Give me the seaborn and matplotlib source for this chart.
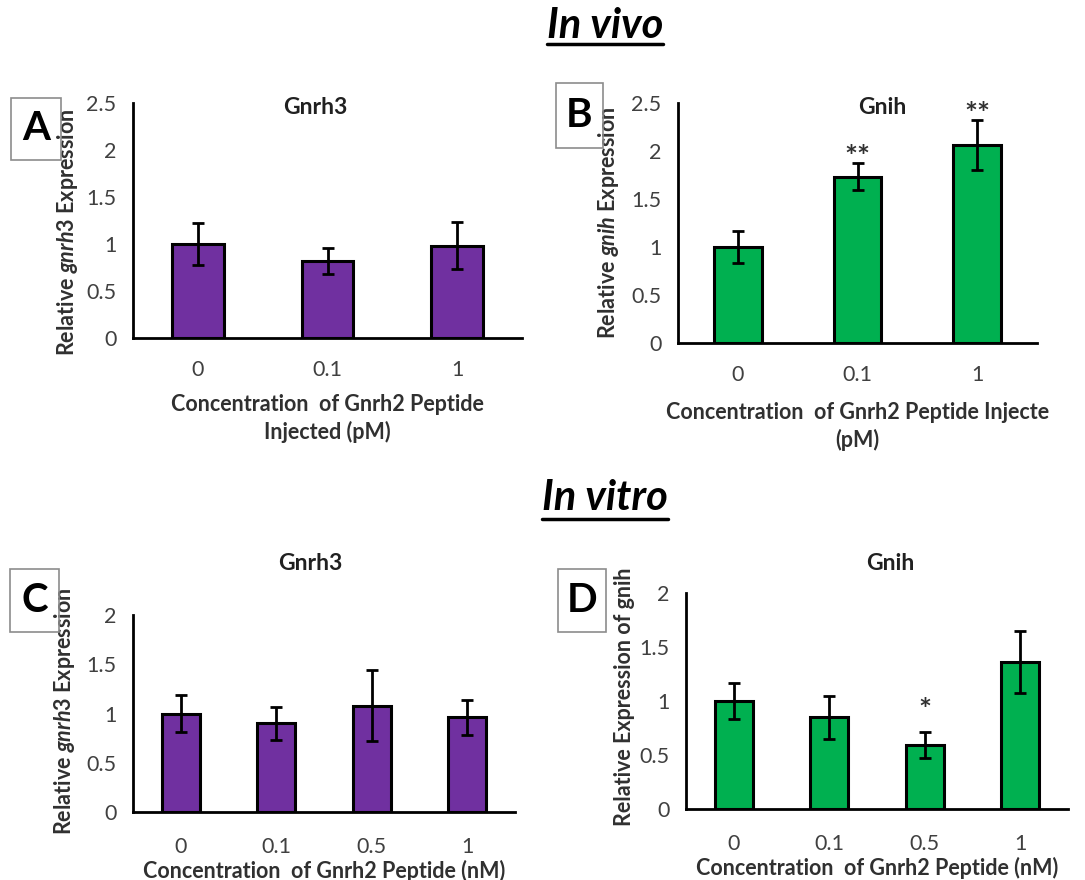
import numpy as np
import pandas as pd
import matplotlib
matplotlib.use("Agg")
import matplotlib.pyplot as plt
import seaborn as sns
from matplotlib.patches import Rectangle
from matplotlib.lines import Line2D

# ---------------- data ----------------
vivo_doses = ["0", "0.1", "1"]
vitro_doses = ["0", "0.1", "0.5", "1"]

a_mean = [1.00, 0.82, 0.98]
a_err = [0.22, 0.14, 0.25]

b_mean = [1.00, 1.73, 2.06]
b_err = [0.17, 0.14, 0.26]
b_sig = ["", "**", "**"]

c_mean = [1.00, 0.90, 1.08, 0.96]
c_err = [0.19, 0.17, 0.36, 0.18]

d_mean = [1.00, 0.85, 0.59, 1.36]
d_err = [0.17, 0.20, 0.12, 0.29]
d_sig = ["", "", "*", ""]

PURPLE = "#7030A0"
GREEN = "#00B050"

# ---------------- style ----------------
sns.set_style("white")
plt.rcParams["font.family"] = ["Lato", "DejaVu Sans"]
plt.rcParams["mathtext.fontset"] = "custom"
plt.rcParams["mathtext.rm"] = "Lato:bold"
plt.rcParams["mathtext.it"] = "Lato:italic:bold"
plt.rcParams["mathtext.bf"] = "Lato:bold"

W, H = 1085, 880
fig = plt.figure(figsize=(W / 100, H / 100), dpi=100)

TICK_FS = 15.5
LAB_FS = 15.5


def px_rect(l, r, t, b):
    return [l / W, 1 - b / H, (r - l) / W, (b - t) / H]


def panel(rect, cats, means, errs, color, ymax, ylabel, xlabel, ylab_xy,
          title, title_xy, sig=None, sig_off=0.15, xlab_pad=6, xtick_pad=16):
    ax = fig.add_axes(px_rect(*rect))
    df = pd.DataFrame({"dose": cats, "value": means})
    sns.barplot(data=df, x="dose", y="value", order=cats, color=color,
                saturation=1, width=0.4, edgecolor="black", linewidth=2.2,
                errorbar=None, ax=ax)
    xs = np.arange(len(cats))
    ax.errorbar(xs, means, yerr=errs, fmt="none", ecolor="black",
                elinewidth=2, capsize=4, capthick=2, zorder=5)
    n = len(cats)
    ax.set_xlim(-0.5, n - 0.5)
    ax.set_ylim(0, ymax)
    ticks = np.arange(0, ymax + 0.01, 0.5)
    ax.set_yticks(ticks)
    ax.set_yticklabels([f"{v:g}" for v in ticks])
    ax.set_xticks(np.arange(-0.5, n, 1), minor=True)
    ax.tick_params(axis="x", which="major", length=0, pad=xtick_pad,
                   labelsize=TICK_FS, labelcolor="#404040")
    ax.tick_params(axis="x", which="minor", length=7, width=2,
                   direction="out", color="black")
    ax.tick_params(axis="y", which="major", length=7, width=2,
                   direction="out", color="black", pad=5,
                   labelsize=TICK_FS, labelcolor="#404040")
    for s in ["top", "right"]:
        ax.spines[s].set_visible(False)
    for s in ["left", "bottom"]:
        ax.spines[s].set_linewidth(2)
        ax.spines[s].set_color("black")
    ax.set_ylabel(ylabel, fontsize=LAB_FS, fontweight="bold", color="#303030")
    ax.yaxis.set_label_coords(*ylab_xy)
    ax.set_xlabel(xlabel, fontsize=LAB_FS, fontweight="bold", color="#303030",
                  labelpad=xlab_pad, linespacing=1.35)
    fig.text(title_xy[0] / W, 1 - title_xy[1] / H, title, ha="center",
             va="center", fontsize=16.5, fontweight="bold", color="#202020")
    if sig is not None:
        for x, m, e, s in zip(xs, means, errs, sig):
            if s:
                ax.text(x, m + e + sig_off, s, ha="center", va="center",
                        fontsize=22, color="#303030", fontweight="bold")
    return ax


def letter_box(l, r, t, b, letter):
    fig.add_artist(Rectangle((l / W, 1 - b / H), (r - l) / W, (b - t) / H,
                             transform=fig.transFigure, fill=False,
                             edgecolor="#8c8c8c", linewidth=1.2))
    fig.text((l + r) / 2 / W, 1 - (t + b) / 2 / H, letter, ha="center",
             va="center", fontsize=29, fontweight="bold", color="black")


def header(cx, cy, text, uline_y):
    t = fig.text(cx / W, 1 - cy / H, text, ha="center", va="center",
                 fontsize=30, fontweight="bold", style="italic", color="black")
    fig.canvas.draw()
    bb = t.get_window_extent(renderer=fig.canvas.get_renderer())
    fig.add_artist(Line2D([bb.x0 / W, bb.x1 / W], [1 - uline_y / H] * 2,
                          transform=fig.transFigure, color="black",
                          linewidth=2.5))


# ---------------- panels ----------------
panel((133, 522, 103, 338), vivo_doses, a_mean, a_err, PURPLE, 2.5,
      r"Relative $\mathit{gnrh3}$ Expression",
      "Concentration  of Gnrh2 Peptide\nInjected (pM)", (-0.137, 0.45),
      "Gnrh3", (315, 107), xlab_pad=10)

panel((678, 1037, 103, 343), vivo_doses, b_mean, b_err, GREEN, 2.5,
      r"Relative $\mathit{gnih}$ Expression",
      "Concentration  of Gnrh2 Peptide Injecte\n(pM)", (-0.159, 0.5),
      "Gnih", (882, 107), sig=b_sig, sig_off=0.06, xlab_pad=12)

panel((133, 515, 615, 812), vitro_doses, c_mean, c_err, PURPLE, 2.0,
      r"Relative $\mathit{gnrh3}$ Expression",
      "Concentration  of Gnrh2 Peptide (nM)", (-0.147, 0.51),
      "Gnrh3", (310, 563), xlab_pad=2, xtick_pad=18)

panel((686, 1068, 593, 809), vitro_doses, d_mean, d_err, GREEN, 2.0,
      "Relative Expression of gnih",
      "Concentration  of Gnrh2 Peptide (nM)", (-0.134, 0.52),
      "Gnih", (890, 563), sig=d_sig, sig_off=0.20, xlab_pad=2, xtick_pad=18)

letter_box(11, 61, 98, 160, "A")
letter_box(556, 603, 83, 148, "B")
letter_box(10, 59, 569, 632, "C")
letter_box(558, 606, 569, 632, "D")

header(605, 26, "In vivo", 44)
header(605, 498, "In vitro", 519)

fig.savefig("out.png", dpi=100, facecolor="white")
